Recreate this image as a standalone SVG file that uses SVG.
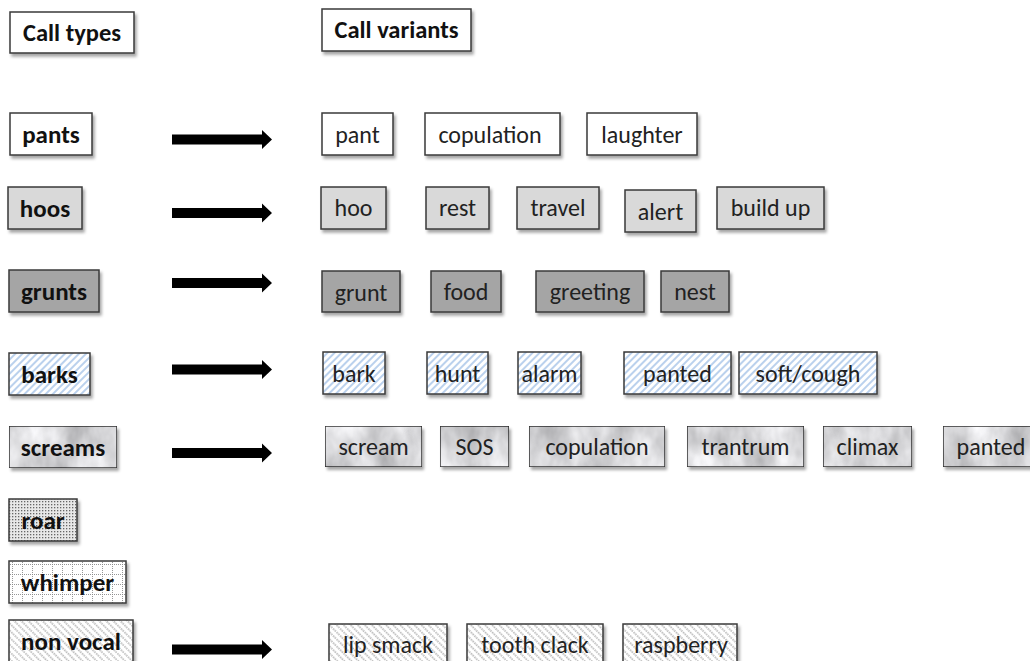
<svg xmlns="http://www.w3.org/2000/svg" width="1030" height="661" viewBox="0 0 1030 661">
  <style>
    .box { stroke: #3a3a3a; stroke-width: 1.5; }
    .white { fill: #ffffff; }
    .light { fill: #d9d9d9; }
    .mid { fill: #a5a5a5; }
    .hatch { fill: url(#hatchBlue); }
    .dots { fill: url(#dotFill); }
    .grid { fill: url(#gridFill); }
    .stripes { fill: url(#stripeFill); }
    .head { font-family: "Carlito", "Lato", "Liberation Sans", sans-serif; font-weight: bold; font-size: 24.5px; fill: #111; text-anchor: middle; }
    .type { font-family: "Carlito", "Lato", "Liberation Sans", sans-serif; font-weight: bold; font-size: 25px; fill: #111; text-anchor: middle; }
    .var { font-family: "Carlito", "Lato", "Liberation Sans", sans-serif; font-size: 24px; fill: #222; text-anchor: middle; }
    .arrow { fill: #000; }
  </style>
  <defs>
    <filter id="shadow" x="-10%" y="-20%" width="130%" height="160%">
      <feGaussianBlur in="SourceAlpha" stdDeviation="1.5"/>
      <feOffset dx="2" dy="2.5" result="off"/>
      <feFlood flood-color="#000" flood-opacity="0.35"/>
      <feComposite in2="off" operator="in" result="sh"/>
      <feMerge><feMergeNode in="sh"/><feMergeNode in="SourceGraphic"/></feMerge>
    </filter>
    <!-- light grey marble surface, multiplied into a white box so the border stays dark -->
    <filter id="marble" x="0" y="0" width="1" height="1" color-interpolation-filters="sRGB">
      <feTurbulence type="fractalNoise" baseFrequency="0.035 0.02" numOctaves="4" seed="11" result="noise"/>
      <feColorMatrix in="noise" type="matrix" values="0.42 0 0 0 0.63  0.42 0 0 0 0.63  0.42 0 0 0 0.64  0 0 0 0 1" result="grey"/>
      <feComposite in="SourceGraphic" in2="grey" operator="arithmetic" k1="1" k2="0" k3="0" k4="0"/>
    </filter>
    <pattern id="hatchBlue" width="5" height="5" patternUnits="userSpaceOnUse" patternTransform="rotate(45)">
      <rect width="5" height="5" fill="#ffffff"/>
      <line x1="1" y1="0" x2="1" y2="5" stroke="#8db3e2" stroke-width="1.2"/>
    </pattern>
    <pattern id="dotFill" width="3" height="3" patternUnits="userSpaceOnUse">
      <rect width="3" height="3" fill="#e8e8e8"/>
      <rect x="0" y="0" width="1.3" height="1.3" fill="#666"/>
    </pattern>
    <pattern id="gridFill" width="10" height="10" patternUnits="userSpaceOnUse" x="2" y="4">
      <rect width="10" height="10" fill="#ffffff"/>
      <path d="M0 0.5 H10 M0.5 0 V10" stroke="#8a8a8a" stroke-width="0.9" stroke-dasharray="1 1" fill="none"/>
    </pattern>
    <pattern id="stripeFill" width="5" height="5" patternUnits="userSpaceOnUse" patternTransform="rotate(-45)">
      <rect width="5" height="5" fill="#ffffff"/>
      <line x1="1" y1="0" x2="1" y2="5" stroke="#8a8a8a" stroke-width="1.1" stroke-dasharray="1.5 1"/>
    </pattern>
    <path id="arrowShape" d="M0 -5 H90 V-9.5 L100 0 L90 9.5 V5 H0 Z"/>
  </defs>

  <rect width="1030" height="661" fill="#ffffff"/>

  <!-- column headers -->
  <g id="hdr-types"><rect class="box white" x="10" y="12" width="124" height="41" filter="url(#shadow)"/><text class="head" x="72" y="41">Call types</text></g>
  <g id="hdr-variants"><rect class="box white" x="322" y="9" width="149" height="42" filter="url(#shadow)"/><text class="head" x="396.5" y="38">Call variants</text></g>

  <!-- call types -->
  <g id="type-pants"><rect class="box white" x="10" y="113" width="82" height="42" filter="url(#shadow)"/><text class="type" x="51" y="142.5">pants</text></g>
  <g id="type-hoos"><rect class="box light" x="8" y="187" width="74" height="42" filter="url(#shadow)"/><text class="type" x="45" y="216.5">hoos</text></g>
  <g id="type-grunts"><rect class="box mid" x="9" y="270" width="90" height="42" filter="url(#shadow)"/><text class="type" x="54" y="299.5">grunts</text></g>
  <g id="type-barks"><rect class="box hatch" x="9" y="353" width="81" height="42" filter="url(#shadow)"/><text class="type" x="49.5" y="382.5">barks</text></g>
  <g id="type-screams"><g filter="url(#shadow)"><rect class="box white" x="9" y="426" width="108" height="42" filter="url(#marble)"/></g><text class="type" x="63" y="455.5">screams</text></g>
  <g id="type-roar"><rect class="box dots" x="9" y="499" width="68" height="42" filter="url(#shadow)"/><text class="type" x="43" y="528.5">roar</text></g>
  <g id="type-whimper"><rect class="box grid" x="9" y="561" width="117" height="42" filter="url(#shadow)"/><text class="type" x="67.5" y="590.5">whimper</text></g>
  <g id="type-nonvocal"><rect class="box stripes" x="9" y="620" width="124" height="43" filter="url(#shadow)"/><text class="type" x="71" y="649.5">non vocal</text></g>

  <!-- connectors -->
  <g id="connectors">
    <use href="#arrowShape" class="arrow" transform="translate(172 139.5)"/>
    <use href="#arrowShape" class="arrow" transform="translate(172 213)"/>
    <use href="#arrowShape" class="arrow" transform="translate(172 283)"/>
    <use href="#arrowShape" class="arrow" transform="translate(172 369.5)"/>
    <use href="#arrowShape" class="arrow" transform="translate(172 453)"/>
    <use href="#arrowShape" class="arrow" transform="translate(172 649.5)"/>
  </g>

  <!-- pants variants -->
  <g id="v-pant"><rect class="box white" x="322" y="113" width="71" height="42" filter="url(#shadow)"/><text class="var" x="357.5" y="142.5">pant</text></g>
  <g id="v-copulation1"><rect class="box white" x="425" y="113" width="135" height="42" filter="url(#shadow)"/><text class="var" x="490" y="142.5">copulation</text></g>
  <g id="v-laughter"><rect class="box white" x="587" y="113" width="110" height="42" filter="url(#shadow)"/><text class="var" x="642" y="142.5">laughter</text></g>

  <!-- hoos variants -->
  <g id="v-hoo"><rect class="box light" x="321" y="187" width="65" height="42" filter="url(#shadow)"/><text class="var" x="353.5" y="216">hoo</text></g>
  <g id="v-rest"><rect class="box light" x="426" y="187" width="63" height="42" filter="url(#shadow)"/><text class="var" x="457.5" y="216">rest</text></g>
  <g id="v-travel"><rect class="box light" x="517" y="187" width="82" height="42" filter="url(#shadow)"/><text class="var" x="558" y="216">travel</text></g>
  <g id="v-alert"><rect class="box light" x="625" y="190" width="71" height="42" filter="url(#shadow)"/><text class="var" x="660.5" y="219.5">alert</text></g>
  <g id="v-buildup"><rect class="box light" x="717" y="187" width="107" height="42" filter="url(#shadow)"/><text class="var" x="770.5" y="216">build up</text></g>

  <!-- grunts variants -->
  <g id="v-grunt"><rect class="box mid" x="322" y="271" width="78" height="41" filter="url(#shadow)"/><text class="var" x="361" y="300.5">grunt</text></g>
  <g id="v-food"><rect class="box mid" x="431" y="271" width="70" height="41" filter="url(#shadow)"/><text class="var" x="466" y="299.5">food</text></g>
  <g id="v-greeting"><rect class="box mid" x="536" y="271" width="108" height="41" filter="url(#shadow)"/><text class="var" x="590" y="299.5">greeting</text></g>
  <g id="v-nest"><rect class="box mid" x="661" y="271" width="68" height="41" filter="url(#shadow)"/><text class="var" x="695" y="299.5">nest</text></g>

  <!-- barks variants -->
  <g id="v-bark"><rect class="box hatch" x="323" y="352" width="62" height="42" filter="url(#shadow)"/><text class="var" x="354" y="381.5">bark</text></g>
  <g id="v-hunt"><rect class="box hatch" x="427" y="352" width="61" height="42" filter="url(#shadow)"/><text class="var" x="457.5" y="381.5">hunt</text></g>
  <g id="v-alarm"><rect class="box hatch" x="518" y="352" width="63" height="42" filter="url(#shadow)"/><text class="var" x="549.5" y="381.5">alarm</text></g>
  <g id="v-panted1"><rect class="box hatch" x="624" y="352" width="107" height="42" filter="url(#shadow)"/><text class="var" x="677.5" y="381.5">panted</text></g>
  <g id="v-softcough"><rect class="box hatch" x="739" y="352" width="138" height="42" filter="url(#shadow)"/><text class="var" x="808" y="381.5">soft/cough</text></g>

  <!-- screams variants -->
  <g id="v-scream"><g filter="url(#shadow)"><rect class="box white" x="325" y="426" width="97" height="41" filter="url(#marble)"/></g><text class="var" x="373.5" y="455">scream</text></g>
  <g id="v-sos"><g filter="url(#shadow)"><rect class="box white" x="440" y="426" width="69" height="41" filter="url(#marble)"/></g><text class="var" x="474.5" y="455">SOS</text></g>
  <g id="v-copulation2"><g filter="url(#shadow)"><rect class="box white" x="529" y="426" width="136" height="41" filter="url(#marble)"/></g><text class="var" x="597" y="455">copulation</text></g>
  <g id="v-trantrum"><g filter="url(#shadow)"><rect class="box white" x="687" y="426" width="117" height="41" filter="url(#marble)"/></g><text class="var" x="745.5" y="455">trantrum</text></g>
  <g id="v-climax"><g filter="url(#shadow)"><rect class="box white" x="823" y="426" width="89" height="41" filter="url(#marble)"/></g><text class="var" x="867.5" y="455">climax</text></g>
  <g id="v-panted2"><g filter="url(#shadow)"><rect class="box white" x="943" y="426" width="100" height="41" filter="url(#marble)"/></g><text class="var" x="991" y="455">panted</text></g>

  <!-- non vocal variants -->
  <g id="v-lipsmack"><rect class="box stripes" x="329" y="624" width="118" height="42" filter="url(#shadow)"/><text class="var" x="388" y="653">lip smack</text></g>
  <g id="v-toothclack"><rect class="box stripes" x="467" y="624" width="136" height="42" filter="url(#shadow)"/><text class="var" x="535" y="653">tooth clack</text></g>
  <g id="v-raspberry"><rect class="box stripes" x="623" y="624" width="114" height="42" filter="url(#shadow)"/><text class="var" x="681" y="653">raspberry</text></g>
</svg>
